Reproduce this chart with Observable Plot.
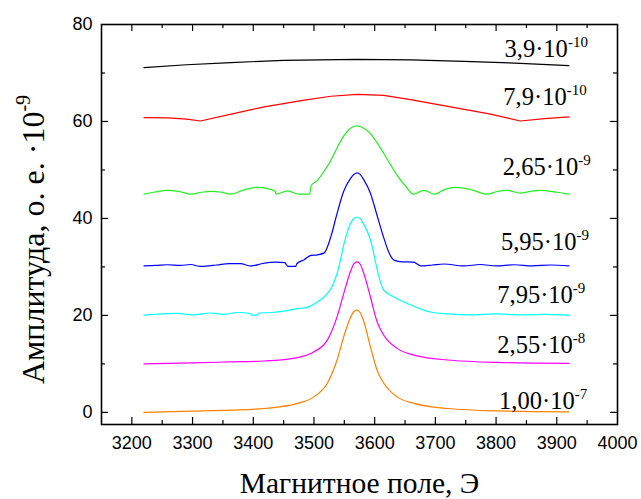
<!DOCTYPE html>
<html><head><meta charset="utf-8">
<script src="https://cdn.jsdelivr.net/npm/d3@7"></script>
<script src="https://cdn.jsdelivr.net/npm/@observablehq/plot@0.6"></script>
<style>body{margin:0;background:#fff;} #chart svg{display:block;}</style>
</head><body><div id="chart"></div>
<script>
// ---- data ----
const seriesLabels = ["3,9·10^-10", "7,9·10^-10", "2,65·10^-9", "5,95·10^-9", "7,95·10^-9", "2,55·10^-8", "1,00·10^-7"];

const field_39e10 = [3220, 3290, 3363, 3450, 3571, 3660, 3747, 3840, 3920];
const amp_39e10   = [71.1, 71.7, 72.15, 72.6, 72.8, 72.7, 72.4, 72.0, 71.5];

const field_79e10 = [3220, 3260, 3290, 3313, 3360, 3418, 3484, 3528, 3571, 3615, 3659, 3725, 3791, 3840, 3880, 3920];
const amp_79e10   = [60.8, 60.75, 60.5, 60.1, 61.4, 63.0, 64.4, 65.2, 65.6, 65.4, 64.5, 63.0, 61.5, 60.1, 60.6, 60.95];

const field_265e9 = [3220, 3240, 3259, 3280, 3297, 3315, 3330, 3348, 3363, 3385, 3407, 3425, 3436, 3438, 3456, 3475, 3493, 3495, 3506, 3517, 3528, 3539, 3550, 3560, 3571, 3582, 3593, 3604, 3615, 3626, 3637, 3650, 3664, 3681, 3699, 3716, 3733, 3760, 3785, 3800, 3818, 3840, 3857, 3873, 3900, 3920];
const amp_265e9   = [45.0, 45.5, 45.8, 45.5, 45.0, 45.4, 45.6, 45.4, 45.0, 45.9, 46.4, 46.1, 45.6, 45.0, 45.7, 45.0, 45.0, 46.7, 47.9, 49.8, 52.0, 54.8, 57.2, 58.6, 59.1, 58.6, 57.5, 55.6, 53.4, 51.1, 48.9, 46.8, 45.0, 45.8, 45.0, 46.0, 46.4, 45.9, 45.0, 45.5, 45.8, 45.2, 45.6, 45.8, 45.4, 45.0];

const field_595e9 = [3220, 3240, 3259, 3280, 3297, 3313, 3340, 3360, 3379, 3395, 3397, 3415, 3437, 3452, 3457, 3470, 3472, 3484, 3495, 3506, 3517, 3528, 3538, 3549, 3560, 3566, 3571, 3576, 3582, 3593, 3604, 3615, 3624, 3632, 3645, 3664, 3676, 3695, 3714, 3747, 3774, 3800, 3830, 3860, 3890, 3920];
const amp_595e9   = [30.2, 30.3, 30.45, 30.3, 30.5, 30.1, 30.4, 30.7, 30.7, 30.2, 30.2, 30.7, 31.0, 30.9, 30.1, 30.1, 30.7, 31.5, 32.4, 32.5, 32.9, 36.3, 41.0, 45.6, 48.2, 49.1, 49.4, 49.1, 48.0, 45.2, 40.6, 36.0, 32.8, 31.4, 31.05, 31.0, 30.2, 30.4, 30.6, 30.2, 30.5, 30.2, 30.45, 30.2, 30.4, 30.2];

const field_795e9 = [3220, 3250, 3275, 3300, 3330, 3350, 3374, 3396, 3397, 3407, 3409, 3430, 3451, 3473, 3489, 3506, 3522, 3530, 3540, 3550, 3560, 3566, 3571, 3576, 3582, 3593, 3602, 3607, 3615, 3632, 3653, 3681, 3692, 3720, 3760, 3800, 3840, 3880, 3920];
const amp_795e9   = [20.05, 20.3, 20.4, 20.1, 20.5, 20.2, 20.6, 20.4, 20.05, 20.05, 20.5, 20.6, 20.9, 21.4, 21.65, 22.8, 24.5, 26.0, 29.5, 35.0, 38.9, 40.0, 40.3, 40.0, 38.8, 35.6, 30.7, 28.0, 25.2, 23.8, 22.5, 21.1, 20.7, 20.3, 20.1, 20.3, 20.1, 20.2, 20.05];

const field_255e8 = [3220, 3300, 3360, 3418, 3473, 3500, 3522, 3538, 3549, 3560, 3566, 3571, 3576, 3582, 3593, 3604, 3615, 3637, 3665, 3720, 3802, 3920];
const amp_255e8   = [10.0, 10.2, 10.4, 10.6, 11.3, 12.5, 14.9, 19.7, 24.5, 29.0, 30.7, 31.05, 30.6, 28.7, 23.8, 18.7, 15.9, 13.2, 11.8, 10.8, 10.3, 10.1];

const field_100e7 = [3220, 3300, 3363, 3418, 3473, 3500, 3522, 3538, 3549, 3560, 3566, 3571, 3576, 3582, 3593, 3604, 3615, 3637, 3665, 3720, 3802, 3920];
const amp_100e7   = [0.0, 0.25, 0.47, 0.8, 1.85, 3.2, 6.0, 10.8, 15.6, 19.5, 20.8, 21.1, 20.6, 18.8, 13.5, 8.7, 6.0, 3.2, 1.85, 0.8, 0.3, 0.1];

const labelField = [3814, 3812, 3811, 3808, 3802, 3802, 3805];
const labelAmp   = [73.3, 63.4, 48.9, 33.5, 22.5, 12.2, 0.7];

const xTicks = [3200, 3300, 3400, 3500, 3600, 3700, 3800, 3900, 4000];
const xMinorTicks = [3150, 3250, 3350, 3450, 3550, 3650, 3750, 3850, 3950];
const yTicks = [0, 20, 40, 60, 80];
const yMinorTicks = [10, 30, 50, 70];

const xTitle = "Магнитное поле, Э";
const yTitle = "Амплитуда, о. е. ·10^-9";

// ---- styles ----
const colors = ["#000000", "#ff0000", "#22ee22", "#0000ff", "#00ffff", "#ff00ff", "#ff8000"];
const fields = [field_39e10, field_79e10, field_265e9, field_595e9, field_795e9, field_255e8, field_100e7];
const amps = [amp_39e10, amp_79e10, amp_265e9, amp_595e9, amp_795e9, amp_255e8, amp_100e7];

const rows = [];
seriesLabels.forEach((s, i) => fields[i].forEach((f, j) => rows.push({series: s, field: f, amp: amps[i][j]})));
const labelRows = seriesLabels.map((s, i) => ({text: s, field: labelField[i], amp: labelAmp[i]}));

const W = 641, H = 499, mL = 101, mR = 24, mT = 24, mB = 75;
const fw = W - mL - mR, fh = H - mT - mB;
const serif = "'Liberation Serif', 'Times New Roman', serif";
const sans = "'Liberation Sans', Arial, sans-serif";
const labelSize = 24.5, xTitleSize = 29.5, yTitleSize = 32;

const marks = [];
seriesLabels.forEach((s, i) => {
  marks.push(Plot.line(rows.filter(r => r.series === s), {
    x: "field", y: "amp", stroke: colors[i], strokeWidth: 1.2,
    curve: i <= 1 ? "linear" : "monotone-x"
  }));
});
marks.push(
  Plot.tickX(xTicks.filter(t => t < 4000), {x: d => d, insetTop: fh - 7, stroke: "black", strokeWidth: 1.2}),
  Plot.tickX(xTicks.filter(t => t < 4000), {x: d => d, insetBottom: fh - 7, stroke: "black", strokeWidth: 1.2}),
  Plot.tickX(xMinorTicks.filter(t => t > 3150), {x: d => d, insetTop: fh - 4, stroke: "black", strokeWidth: 1.2}),
  Plot.tickX(xMinorTicks.filter(t => t > 3150), {x: d => d, insetBottom: fh - 4, stroke: "black", strokeWidth: 1.2}),
  Plot.tickY(yTicks.filter(t => t < 80), {y: d => d, insetRight: fw - 7, stroke: "black", strokeWidth: 1.2}),
  Plot.tickY(yTicks.filter(t => t < 80), {y: d => d, insetLeft: fw - 7, stroke: "black", strokeWidth: 1.2}),
  Plot.tickY(yMinorTicks, {y: d => d, insetRight: fw - 4, stroke: "black", strokeWidth: 1.2}),
  Plot.tickY(yMinorTicks, {y: d => d, insetLeft: fw - 4, stroke: "black", strokeWidth: 1.2}),
  Plot.frame({stroke: "black", strokeWidth: 1.6}),
  Plot.axisX(xTicks, {tickSize: 0, tickPadding: 12, fontSize: 18, fontFamily: sans, fill: "black", label: null, tickFormat: d => String(d)}),
  Plot.axisY(yTicks, {tickSize: 0, tickPadding: 9, fontSize: 18, fontFamily: sans, fill: "black", label: null, tickFormat: d => String(d)}),
  Plot.text(labelRows, {x: "field", y: "amp", text: "text", textAnchor: "start", lineAnchor: "bottom", fontSize: labelSize, fontFamily: serif, fill: "black"}),
  Plot.text([xTitle], {text: d => d, frameAnchor: "bottom", textAnchor: "middle", dy: 68, lineAnchor: "bottom", fontSize: xTitleSize, fontFamily: serif, fill: "black"}),
  Plot.text([yTitle], {text: d => d, frameAnchor: "left", textAnchor: "middle", rotate: -90, dx: -58, dy: 15, lineAnchor: "bottom", fontSize: yTitleSize, fontFamily: serif, fill: "black"})
);

const svg = Plot.plot({
  width: W, height: H,
  marginLeft: mL, marginRight: mR, marginTop: mT, marginBottom: mB,
  x: {domain: [3150, 4000], axis: null},
  y: {domain: [-2.5, 80], axis: null},
  style: {background: "white", color: "black", fontFamily: sans},
  marks
});

// superscripts
d3.select(svg).selectAll("text").each(function () {
  const t = this.textContent;
  if (!t.includes("^")) return;
  const [main, sup] = t.split("^");
  const fs = t.startsWith("Амп") ? yTitleSize : labelSize;
  const sel = d3.select(this);
  sel.text(null);
  sel.append("tspan").text(main);
  sel.append("tspan").attr("dy", -0.42 * fs).attr("font-size", Math.round(fs * 0.62)).text(sup);
});

document.getElementById("chart").appendChild(svg);
</script>
</body></html>
